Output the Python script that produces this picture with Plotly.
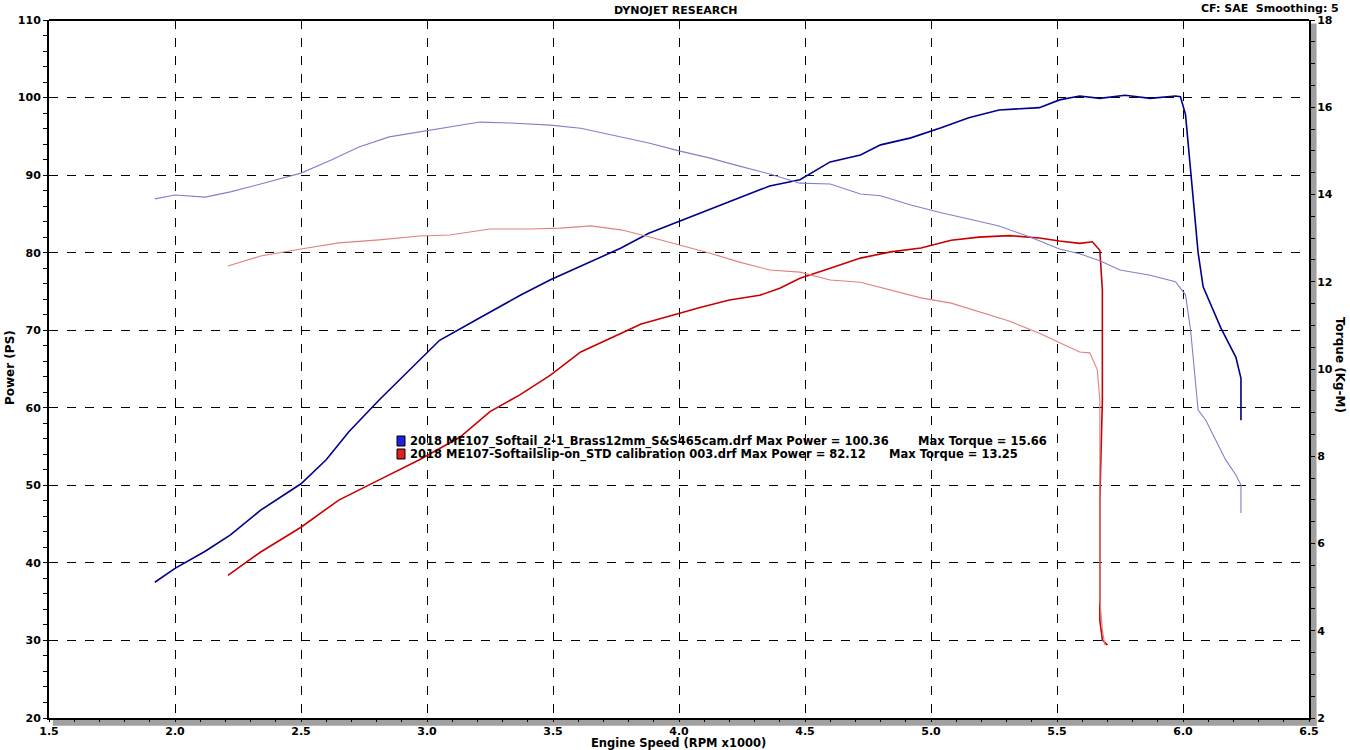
import plotly.graph_objects as go

# ---------------- data ----------------
blue_power_rpm = [1.92, 2.0, 2.12, 2.22, 2.34, 2.5, 2.6, 2.69, 2.81, 2.93, 3.05, 3.21, 3.37, 3.49,
                  3.65, 3.77, 3.88, 4.0, 4.12, 4.24, 4.36, 4.48, 4.6, 4.72, 4.8, 4.92, 5.04, 5.15,
                  5.27, 5.43, 5.51, 5.59, 5.67, 5.77, 5.87, 5.97, 5.99, 6.01, 6.03, 6.06, 6.08,
                  6.15, 6.21, 6.23, 6.23]
blue_power = [37.5, 39.3, 41.5, 43.6, 46.8, 50.2, 53.3, 56.9, 61.0, 64.9, 68.7, 71.6, 74.5, 76.5,
              78.8, 80.6, 82.5, 84.0, 85.5, 87.0, 88.6, 89.4, 91.7, 92.6, 93.9, 94.8, 96.1, 97.4,
              98.4, 98.7, 99.7, 100.2, 99.9, 100.3, 99.9, 100.2, 100.1, 97.8, 90.3, 80.0, 75.6,
              70.3, 66.5, 63.8, 58.4]

blue_torque_rpm = [1.92, 2.0, 2.12, 2.22, 2.34, 2.5, 2.62, 2.73, 2.85, 2.97, 3.09, 3.21, 3.33, 3.49,
                   3.61, 3.77, 3.88, 4.0, 4.12, 4.24, 4.36, 4.48, 4.6, 4.72, 4.8, 4.92, 5.04, 5.15,
                   5.27, 5.39, 5.51, 5.59, 5.67, 5.75, 5.87, 5.97, 6.01, 6.03, 6.05, 6.06, 6.09,
                   6.13, 6.17, 6.21, 6.23, 6.23, 6.23]
blue_torque = [13.90, 13.99, 13.94, 14.06, 14.24, 14.49, 14.79, 15.09, 15.32, 15.43, 15.55, 15.66,
               15.64, 15.59, 15.52, 15.32, 15.18, 15.00, 14.84, 14.65, 14.47, 14.26, 14.24, 14.01,
               13.97, 13.76, 13.58, 13.44, 13.28, 13.03, 12.75, 12.64, 12.48, 12.27, 12.15, 12.00,
               11.70, 10.90, 9.75, 9.06, 8.83, 8.37, 7.91, 7.57, 7.34, 7.00, 6.70]

red_power_rpm = [2.21, 2.34, 2.5, 2.65, 2.81, 2.97, 3.13, 3.25, 3.37, 3.49, 3.61, 3.73, 3.85, 3.96,
                 4.08, 4.2, 4.32, 4.4, 4.48, 4.6, 4.72, 4.84, 4.96, 5.08, 5.19, 5.31, 5.43, 5.51,
                 5.59, 5.64, 5.67, 5.68, 5.68, 5.67, 5.67, 5.67, 5.68, 5.70]
red_power = [38.4, 41.4, 44.6, 48.1, 50.7, 53.3, 56.2, 59.5, 61.7, 64.2, 67.2, 69.0, 70.8, 71.8,
             72.9, 73.9, 74.5, 75.4, 76.7, 78.0, 79.3, 80.1, 80.6, 81.6, 82.0, 82.2, 81.9, 81.5,
             81.2, 81.4, 80.3, 75.2, 61.0, 48.1, 40.4, 32.6, 30.1, 29.4]

red_torque_rpm = [2.21, 2.34, 2.5, 2.65, 2.81, 2.97, 3.09, 3.25, 3.41, 3.53, 3.65, 3.77, 3.88, 4.0,
                  4.12, 4.24, 4.36, 4.48, 4.6, 4.72, 4.84, 4.96, 5.08, 5.19, 5.31, 5.43, 5.51,
                  5.59, 5.63, 5.66, 5.67, 5.67, 5.67, 5.67, 5.68, 5.69]
red_torque = [12.36, 12.59, 12.75, 12.89, 12.96, 13.05, 13.07, 13.21, 13.21, 13.23, 13.28, 13.19,
              13.03, 12.84, 12.66, 12.45, 12.27, 12.22, 12.04, 11.99, 11.81, 11.63, 11.51, 11.31,
              11.10, 10.82, 10.60, 10.39, 10.37, 9.98, 9.29, 8.14, 6.54, 4.71, 4.02, 3.67]

run_names = ["2018 ME107_Softail_2-1_Brass12mm_S&S465cam.drf",
             "2018 ME107-Softailslip-on_STD calibration 003.drf"]
max_power = ["100.36", "82.12"]
max_torque = ["15.66", "13.25"]

# ---------------- figure ----------------
FONT = "DejaVu Sans"
dark_blue = "#00008C"
light_blue = "#8080C8"
dark_red = "#C80000"
light_red = "#E08080"

fig = go.Figure()
fig.add_trace(go.Scatter(x=blue_torque_rpm, y=blue_torque, yaxis="y2", mode="lines",
                         line=dict(color=light_blue, width=1.1), showlegend=False))
fig.add_trace(go.Scatter(x=red_torque_rpm, y=red_torque, yaxis="y2", mode="lines",
                         line=dict(color=light_red, width=1.1), showlegend=False))
fig.add_trace(go.Scatter(x=red_power_rpm, y=red_power, mode="lines",
                         line=dict(color=dark_red, width=1.6), showlegend=False))
fig.add_trace(go.Scatter(x=blue_power_rpm, y=blue_power, mode="lines",
                         line=dict(color=dark_blue, width=1.6), showlegend=False))

tickfont = dict(family=FONT, size=11, color="black", weight="bold")

fig.update_layout(
    width=1350, height=750,
    margin=dict(l=49, r=41, t=20, b=32),
    paper_bgcolor="white", plot_bgcolor="white",
    hovermode=False,
    xaxis=dict(range=[1.5, 6.5], dtick=0.5, tick0=1.5, tickformat=".1f", automargin=False,
               showgrid=True, gridcolor="black", griddash="dash", gridwidth=1,
               showline=True, linecolor="black", linewidth=2, mirror=False,
               ticks="outside", ticklen=2, tickcolor="black", tickfont=tickfont,
               minor=dict(dtick=0.1, ticks="outside", ticklen=2, tickcolor="black", showgrid=False),
               zeroline=False),
    yaxis=dict(range=[20, 110], dtick=10, showgrid=True, gridcolor="black", griddash="dash",
               gridwidth=1, showline=True, linecolor="black", linewidth=2, automargin=False,
               ticks="outside", ticklen=4, tickcolor="black", tickfont=tickfont,
               minor=dict(dtick=2, ticks="outside", ticklen=4, tickcolor="black", showgrid=False),
               zeroline=False),
    yaxis2=dict(range=[2, 18], dtick=2, overlaying="y", side="right", showgrid=False,
                showline=True, linecolor="black", linewidth=2, automargin=False,
                ticks="outside", ticklen=4, tickcolor="black", tickfont=tickfont,
                minor=dict(dtick=0.5, ticks="outside", ticklen=4, tickcolor="black"),
                zeroline=False),
    showlegend=False,
)

# top border and shadow strips
fig.add_shape(type="line", xref="paper", yref="paper", x0=0, x1=1, y0=1, y1=1,
              line=dict(color="black", width=2))
fig.add_shape(type="rect", xref="paper", yref="paper", x0=0.003, x1=1.006, y0=-0.011, y1=-0.002,
              fillcolor="#A0A0A0", line=dict(width=0), layer="below")
fig.add_shape(type="rect", xref="paper", yref="paper", x0=1.001, x1=1.006, y0=-0.011, y1=0.995,
              fillcolor="#A0A0A0", line=dict(width=0), layer="below")

# texts (positions given in reference pixels relative to plot area 49..1309 x 20..718)
fig.add_annotation(text="DYNOJET RESEARCH", xref="paper", yref="paper", x=(675 - 49) / 1260,
                   y=1.0 + 10 / 698, showarrow=False, xanchor="center", yanchor="middle",
                   font=dict(family=FONT, size=11, color="black", weight="bold"))
fig.add_annotation(text="CF: SAE  Smoothing: 5", xref="paper", yref="paper",
                   x=(1341 - 49) / 1260, y=1.0 + 12 / 698, showarrow=False,
                   xanchor="right", yanchor="middle",
                   font=dict(family=FONT, size=11, color="black", weight="bold"))
fig.add_annotation(text="Engine Speed (RPM x1000)", xref="paper", yref="paper",
                   x=(678 - 49) / 1260, y=-(750 - 718) / 698, showarrow=False,
                   xanchor="center", yanchor="bottom", yshift=-2,
                   font=dict(family=FONT, size=11.5, color="black", weight="bold"))
fig.add_annotation(text="Power (PS)", xref="paper", yref="paper",
                   x=-(49 - 10) / 1260, y=(718 - 368) / 698, showarrow=False, textangle=-90,
                   xanchor="center", yanchor="middle",
                   font=dict(family=FONT, size=12, color="black", weight="bold"))
fig.add_annotation(text="Torque (Kg-M)", xref="paper", yref="paper",
                   x=(1340 - 49) / 1260, y=(718 - 365) / 698, showarrow=False, textangle=90,
                   xanchor="center", yanchor="middle",
                   font=dict(family=FONT, size=12, color="black", weight="bold"))

# legend block
legend_rows = [(441, "#2020E0", 916), (454, "#E02020", 887)]
for i, (py, sq_color, tq_px) in enumerate(legend_rows):
    yp = (718 - py) / 698
    fig.add_shape(type="rect", xref="paper", yref="paper",
                  x0=(397 - 49) / 1260, x1=(405 - 49) / 1260,
                  y0=yp - 5 / 698, y1=yp + 5 / 698,
                  fillcolor=sq_color, line=dict(color="black", width=1))
    fig.add_annotation(text=f"{run_names[i]} Max Power = {max_power[i]}", xref="paper", yref="paper",
                       x=(408 - 49) / 1260, y=yp, showarrow=False, xanchor="left", yanchor="middle",
                       font=dict(family=FONT, size=11.5, color="black", weight="bold"))
    fig.add_annotation(text=f"Max Torque = {max_torque[i]}", xref="paper", yref="paper",
                       x=(tq_px - 49) / 1260, y=yp, showarrow=False, xanchor="left", yanchor="middle",
                       font=dict(family=FONT, size=11.5, color="black", weight="bold"))

# remove the default page margin so the figure sits at the window's top-left corner
fig.write_html("out.html", config={"displayModeBar": False},
               post_script="document.body.style.margin='0';document.body.style.overflow='hidden';")
